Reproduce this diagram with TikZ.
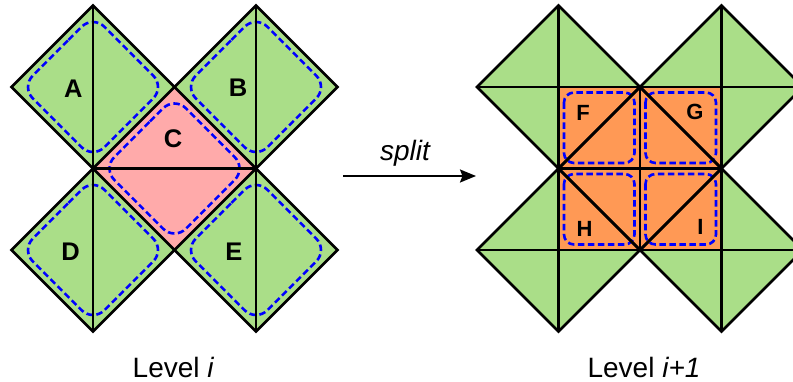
\documentclass[tikz,border=0pt]{standalone}
\usepackage{fontspec}
\setmainfont{Liberation Sans}
\usetikzlibrary{arrows.meta}

\definecolor{leafgreen}{RGB}{170,222,136}
\definecolor{cellpink}{RGB}{255,170,170}
\definecolor{cellorange}{RGB}{255,153,85}
\definecolor{regionblue}{RGB}{0,0,255}

\tikzset{
  edgeline/.style={draw=black, line width=2.8pt},
  regionline/.style={draw=regionblue, line width=2.6pt, dash pattern=on 6.5pt off 3.5pt, rounded corners=#1},
  regionline/.default=16pt,
  celllabel/.style={font=\bfseries\fontsize{25.5}{25.5}\selectfont, inner sep=0pt},
  subcelllabel/.style={font=\bfseries\fontsize{22}{22}\selectfont, inner sep=0pt},
  caption/.style={font=\fontsize{28}{28}\selectfont, inner sep=0pt, anchor=base},
  splitarrow/.style={draw=black, line width=2pt, -{Stealth[length=16pt, width=13pt, inset=2.5pt]}},
}

\begin{document}
\begin{tikzpicture}[x=1pt, y=-1pt]
\useasboundingbox (0,0) rectangle (793,382);
\clip (0,0) rectangle (793,382);

% ---------------- Level i ----------------
% four corner cells
\foreach \cx/\cy in {93/87, 256/87, 93/250, 256/250}
  \fill[leafgreen] (\cx-81.5,\cy) -- (\cx,\cy-81.5) -- (\cx+81.5,\cy) -- (\cx,\cy+81.5) -- cycle;
% central cell
\fill[cellpink] (93,168.5) -- (174.5,87) -- (256,168.5) -- (174.5,250) -- cycle;

% regions
\foreach \cx/\cy in {93/87, 256/87, 93/250, 256/250, 174.5/168.5}
  \draw[regionline] (\cx-35.8,\cy-35.8) -- (\cx,\cy-71.6) -- (\cx+71.6,\cy)
        -- (\cx,\cy+71.6) -- (\cx-71.6,\cy) -- cycle;

% edges
\foreach \cx/\cy in {93/87, 256/87, 93/250, 256/250} {
  \draw[edgeline] (\cx-81.5,\cy) -- (\cx,\cy-81.5) -- (\cx+81.5,\cy) -- (\cx,\cy+81.5) -- cycle;
  \draw[edgeline] (\cx,\cy-81.5) -- (\cx,\cy+81.5);
}
\draw[edgeline] (93,168.5) -- (256,168.5);

\node[celllabel] (lblA) at (73.3,89) {A};
\node[celllabel] (lblB) at (238,87.5) {B};
\node[celllabel] (lblC) at (173,138.5) {C};
\node[celllabel] (lblD) at (70.5,251.5) {D};
\node[celllabel] (lblE) at (234,251.5) {E};

% ---------------- Level i+1 ----------------
\foreach \cx/\cy in {558.5/87, 721.5/87, 558.5/250, 721.5/250}
  \fill[leafgreen] (\cx-81.5,\cy) -- (\cx,\cy-81.5) -- (\cx+81.5,\cy) -- (\cx,\cy+81.5) -- cycle;
\fill[cellorange] (558.5,87) rectangle (721.5,250);

% regions of the refined cells
\draw[regionline=10pt] (564,92.5) rectangle (634.5,163);
\draw[regionline=10pt] (645.5,92.5) rectangle (716,163);
\draw[regionline=10pt] (564,174) rectangle (634.5,244.5);
\draw[regionline=10pt] (645.5,174) rectangle (716,244.5);

% edges
\foreach \cx/\cy in {558.5/87, 721.5/87, 558.5/250, 721.5/250} {
  \draw[edgeline] (\cx-81.5,\cy) -- (\cx,\cy-81.5) -- (\cx+81.5,\cy) -- (\cx,\cy+81.5) -- cycle;
  \draw[edgeline] (\cx,\cy-81.5) -- (\cx,\cy+81.5);
  \draw[edgeline] (\cx-81.5,\cy) -- (\cx+81.5,\cy);
}
\draw[edgeline] (558.5,168.5) -- (640,87) -- (721.5,168.5) -- (640,250) -- cycle;
\draw[edgeline] (640,87) -- (640,250);
\draw[edgeline] (558.5,168.5) -- (721.5,168.5);

\node[subcelllabel] (lblF) at (583,112.5) {F};
\node[subcelllabel] (lblG) at (695,112) {G};
\node[subcelllabel] (lblH) at (584.5,229) {H};
\node[subcelllabel] (lblI) at (700.5,227) {I};

% ---------------- split arrow and captions ----------------
\coordinate (splitfrom) at (343,176);
\coordinate (splitto) at (476,176);
\draw[splitarrow] (splitfrom) -- (splitto);
\node[caption] (splitlbl) at (405,161) {\itshape split};

\node[caption] (levelleft) at (173.5,377) {Level \textit{i}};
\node[caption] (levelright) at (644,377) {Level \textit{i+1}};
\end{tikzpicture}
\end{document}
